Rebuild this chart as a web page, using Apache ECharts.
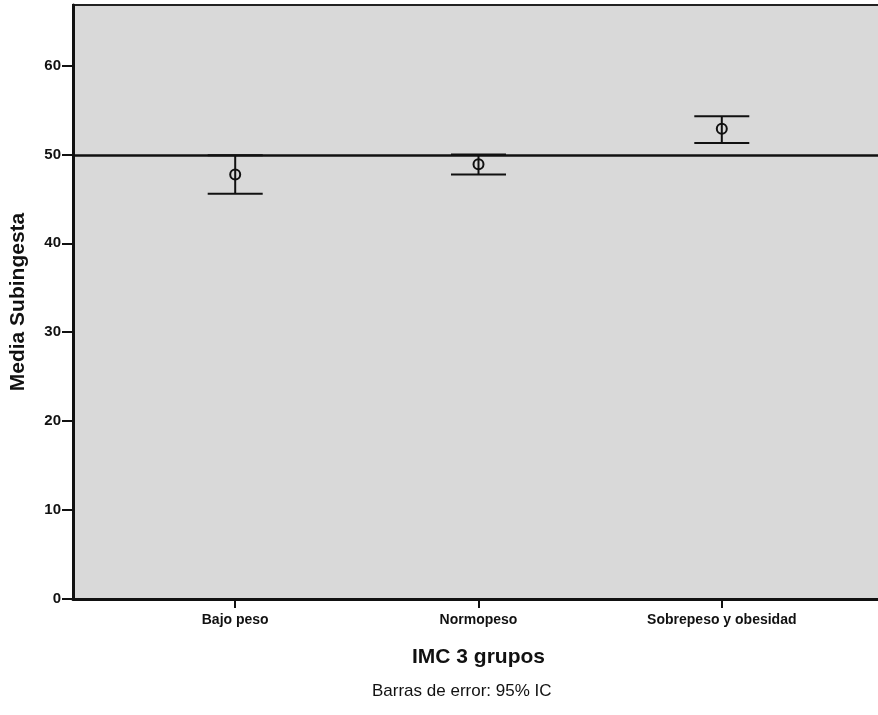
<!DOCTYPE html>
<html>
<head>
<meta charset="utf-8">
<script src="https://cdn.jsdelivr.net/npm/echarts@6/dist/echarts.min.js"></script>
<style>html,body{margin:0;padding:0;background:#fff}#c{width:878px;height:715px}</style>
</head>
<body>
<div id="c"></div>
<script>
const categories = ['Bajo peso', 'Normopeso', 'Sobrepeso y obesidad'];
const positions = [1, 2, 3];
const means = [47.75, 48.88, 52.89];
const lower = [45.58, 47.75, 51.27];
const upper = [49.89, 50.0, 54.3];
const referenceLine = 49.85;
const yTicks = [0, 10, 20, 30, 40, 50, 60];

const data = positions.map((p, i) => [p, lower[i], upper[i], means[i]]);
const chart = echarts.init(document.getElementById('c'));
const font = 'Liberation Sans, Arial, sans-serif';
chart.setOption({
  animation: false,
  grid: { left: 73, right: -6, top: 5, bottom: 116, outerBoundsMode: 'none', containLabel: false, show: true, backgroundColor: '#d9d9d9', borderColor: '#222', borderWidth: 2 },
  xAxis: {
    type: 'value', min: 1 / 3, max: 11 / 3,
    name: 'IMC 3 grupos', nameLocation: 'middle', nameGap: 48,
    nameTextStyle: { fontFamily: font, fontSize: 21, fontWeight: 'bold', color: '#111' },
    axisLine: { lineStyle: { color: '#111', width: 3 } },
    splitLine: { show: false },
    axisTick: { customValues: positions, length: 9, inside: false, lineStyle: { color: '#111', width: 2 } },
    axisLabel: { customValues: positions, formatter: v => categories[Math.round(v) - 1], margin: 14, fontFamily: font, fontSize: 14, fontWeight: 'bold', color: '#111' }
  },
  yAxis: {
    type: 'value', min: 0, max: 66.8,
    name: 'Media Subingesta', nameLocation: 'middle', nameGap: 44,
    nameTextStyle: { fontFamily: font, fontSize: 21, fontWeight: 'bold', color: '#111' },
    axisLine: { show: true, lineStyle: { color: '#111', width: 3 } },
    splitLine: { show: false },
    axisTick: { customValues: yTicks, length: 11, lineStyle: { color: '#111', width: 2 } },
    axisLabel: { customValues: yTicks, margin: 12, fontFamily: font, fontSize: 15, fontWeight: 'bold', color: '#111' }
  },
  graphic: [{
    type: 'text', left: 372, top: 683,
    style: { text: 'Barras de error: 95% IC', font: '17px ' + font, fill: '#111' }
  }],
  series: [{
    type: 'custom',
    data: data,
    encode: { x: 0, y: [1, 2, 3] },
    renderItem: function (params, api) {
      const x = api.value(0);
      const lo = api.coord([x, api.value(1)]);
      const hi = api.coord([x, api.value(2)]);
      const mid = api.coord([x, api.value(3)]);
      const half = 27.5;
      const ls = { stroke: '#111', lineWidth: 2, fill: 'none' };
      return {
        type: 'group',
        children: [
          { type: 'line', shape: { x1: hi[0], y1: hi[1], x2: lo[0], y2: lo[1] }, style: ls },
          { type: 'line', shape: { x1: hi[0] - half, y1: hi[1], x2: hi[0] + half, y2: hi[1] }, style: ls },
          { type: 'line', shape: { x1: lo[0] - half, y1: lo[1], x2: lo[0] + half, y2: lo[1] }, style: ls },
          { type: 'circle', shape: { cx: mid[0], cy: mid[1], r: 5 }, style: { stroke: '#111', lineWidth: 2, fill: '#d9d9d9' } },
          { type: 'line', shape: { x1: mid[0], y1: mid[1] - 5, x2: mid[0], y2: mid[1] + 5 }, style: ls }
        ]
      };
    },
    markLine: {
      silent: true, symbol: 'none', label: { show: false },
      lineStyle: { color: '#111', width: 2.5, type: 'solid' },
      data: [{ yAxis: referenceLine }]
    },
    z: 3
  }]
});
</script>
</body>
</html>
